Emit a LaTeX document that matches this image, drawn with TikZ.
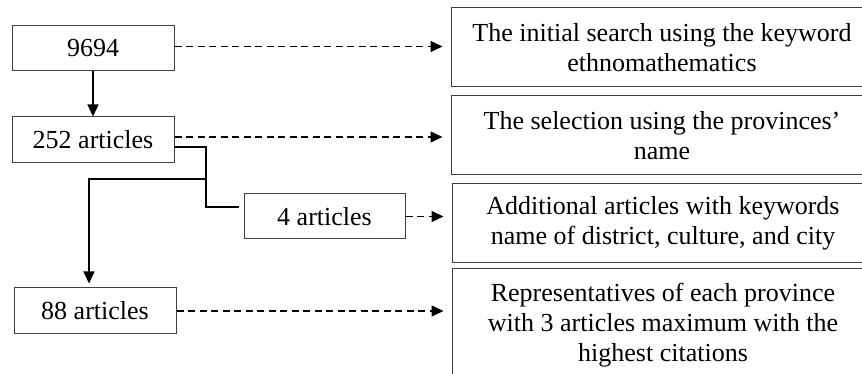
\documentclass[tikz,border=0pt]{standalone}
\usepackage{fontspec}
\setmainfont{Liberation Serif}
\usetikzlibrary{arrows.meta}
\begin{document}
\begin{tikzpicture}[x=1pt,y=1pt,
  box/.style={draw=black!75, line width=1pt, inner sep=0pt, align=center,
    font=\fontsize{26}{30}\selectfont},
  lbox/.style={box, minimum width=162pt, minimum height=45pt},
  rbox/.style={box, minimum width=422pt, minimum height=79pt},
  darr/.style={line width=1.3pt, dash pattern=on 7pt off 4.5pt,
    -{Triangle[length=12pt,width=11pt]}, shorten >=8pt},
  sarr/.style={line width=1.3pt, -{Triangle[length=12pt,width=11pt]}},
  sline/.style={line width=1.3pt}]
\clip (0,0) rectangle (862,374);
\fill[white] (0,0) rectangle (862,374);
% left column
\node[lbox] (n1) at (93,325.5) {9694};
\node[lbox, minimum height=46pt] (n2) at (93,234) {252 articles};
\node[lbox, minimum width=161pt] (n3) at (324.5,157.5) {4 articles};
\node[lbox, minimum height=46pt] (n4) at (95,63) {88 articles};
% right column
\node[rbox] (r1) at (662,326.5) {The initial search using the keyword\\ethnomathematics};
\node[rbox] (r2) at (662,238.5) {The selection using the provinces’\\name};
\node[rbox] (r3) at (663,150.5) {Additional articles with keywords\\name of district, culture, and city};
\node[rbox, minimum height=112pt] (r4) at (663,49) {Representatives of each province\\with 3 articles maximum with the\\highest citations};
% dashed arrows
\draw[darr] ([yshift=2pt]n1.east) -- ([yshift=2pt]n1.east -| r1.west);
\draw[darr] ([yshift=3pt]n2.east) -- ([yshift=3pt]n2.east -| r2.west);
\draw[darr] (n3.east) -- (n3.east -| r3.west);
\draw[darr] (n4.east) -- (n4.east -| r4.west);
% solid connectors
\draw[sarr] (n1.south) -- (n2.north);
\coordinate (j) at (206,195);
\draw[sline, shorten >=5pt] ([yshift=-7pt]n2.east) -| (j) |- ([yshift=9.5pt]n3.west);
\draw[sarr, shorten >=4pt] (j) -| ([xshift=-6pt]n4.north);
\end{tikzpicture}
\end{document}
